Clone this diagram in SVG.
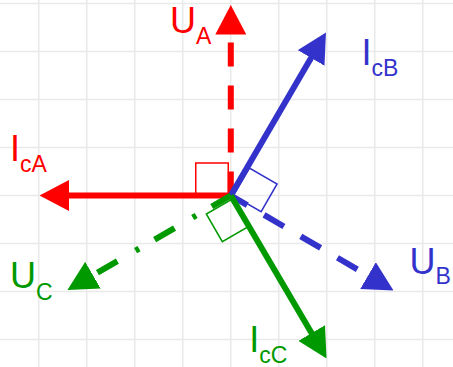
<svg xmlns="http://www.w3.org/2000/svg" width="453" height="367" viewBox="0 0 453 367">
<style>
.grid line{stroke:#e9e9e9;stroke-width:1.6}
.v{fill:none;stroke-width:6;stroke-linecap:butt}
.red{stroke:#ff0000}
.blue{stroke:#3333cc}
.green{stroke:#009900}
.ra{fill:none;stroke-width:1.5}
.dashA{stroke-dasharray:24 19}
.dashB{stroke-dasharray:23 19.5;stroke-dashoffset:4}
.dashdot{stroke-dasharray:23 18 4 21;stroke-dashoffset:1}
.lbl{font-family:"Liberation Sans",Arial,sans-serif;font-size:36px}
.sub{font-size:23px}
</style>
<defs>
<marker id="ahR" viewBox="0 0 29.5 31" refX="1" refY="15.5" markerWidth="29.5" markerHeight="31" markerUnits="userSpaceOnUse" orient="auto"><path d="M0,0 L29.5,15.5 L0,31 Z" fill="#ff0000"/></marker>
<marker id="ahB" viewBox="0 0 29.5 31" refX="1" refY="15.5" markerWidth="29.5" markerHeight="31" markerUnits="userSpaceOnUse" orient="auto"><path d="M0,0 L29.5,15.5 L0,31 Z" fill="#3333cc"/></marker>
<marker id="ahG" viewBox="0 0 29.5 31" refX="1" refY="15.5" markerWidth="29.5" markerHeight="31" markerUnits="userSpaceOnUse" orient="auto"><path d="M0,0 L29.5,15.5 L0,31 Z" fill="#009900"/></marker>
</defs>
<rect width="453" height="367" fill="#ffffff"/>
<g id="grid" class="grid">
<line x1="38.7" y1="0" x2="38.7" y2="367"/>
<line x1="86.7" y1="0" x2="86.7" y2="367"/>
<line x1="134.7" y1="0" x2="134.7" y2="367"/>
<line x1="182.7" y1="0" x2="182.7" y2="367"/>
<line x1="230.7" y1="0" x2="230.7" y2="367"/>
<line x1="278.7" y1="0" x2="278.7" y2="367"/>
<line x1="326.7" y1="0" x2="326.7" y2="367"/>
<line x1="374.7" y1="0" x2="374.7" y2="367"/>
<line x1="422.7" y1="0" x2="422.7" y2="367"/>
<line x1="0" y1="3.5" x2="453" y2="3.5"/>
<line x1="0" y1="51.5" x2="453" y2="51.5"/>
<line x1="0" y1="99.5" x2="453" y2="99.5"/>
<line x1="0" y1="147.5" x2="453" y2="147.5"/>
<line x1="0" y1="195.5" x2="453" y2="195.5"/>
<line x1="0" y1="243.5" x2="453" y2="243.5"/>
<line x1="0" y1="291.5" x2="453" y2="291.5"/>
<line x1="0" y1="339.5" x2="453" y2="339.5"/>
</g>
<g id="right-angles">
<rect id="ra-A" class="ra red" x="195.75" y="163" width="32.5" height="32.5"/>
<path id="ra-B" class="ra blue" d="M233.4,195.7 L249.4,168 L277.1,184 L261.1,211.7 Z"/>
<path id="ra-C" class="ra green" d="M234,198 L206.3,214 L222.3,241.7 L250,225.7 Z"/>
</g>
<g id="connectors">
<line id="UA" class="v red dashA" x1="230.8" y1="195.5" x2="230.8" y2="33.5" marker-end="url(#ahR)"/>
<line id="IcA" class="v red" x1="230.8" y1="195.5" x2="68" y2="195.5" marker-end="url(#ahR)"/>
<line id="IcB" class="v blue" x1="230.8" y1="195.5" x2="311.6" y2="57.1" marker-end="url(#ahB)"/>
<line id="UB" class="v blue dashB" x1="230.8" y1="195.5" x2="368.9" y2="276.1" marker-end="url(#ahB)"/>
<line id="UC" class="v green dashdot" x1="230.8" y1="195.5" x2="92.1" y2="275.7" marker-end="url(#ahG)"/>
<line id="IcC" class="v green" x1="230.8" y1="195.5" x2="312.1" y2="333.9" marker-end="url(#ahG)"/>
</g>
<g id="label-UA"><text class="lbl" x="170" y="33" fill="#ff0000">U<tspan class="sub" dy="11">A</tspan></text></g>
<g id="label-IcA"><text class="lbl" x="10" y="161" fill="#ff0000">I<tspan class="sub" dy="10.5">cA</tspan></text></g>
<g id="label-IcB"><text class="lbl" x="361.6" y="65" fill="#3333cc">I<tspan class="sub" dy="11">cB</tspan></text></g>
<g id="label-UB"><text class="lbl" x="409.5" y="273.5" fill="#3333cc">U<tspan class="sub" dy="10">B</tspan></text></g>
<g id="label-UC"><text class="lbl" x="10" y="288" fill="#009900">U<tspan class="sub" dy="12">C</tspan></text></g>
<g id="label-IcC"><text class="lbl" x="249.3" y="351.7" fill="#009900">I<tspan class="sub" dy="11.5">cC</tspan></text></g>
</svg>
